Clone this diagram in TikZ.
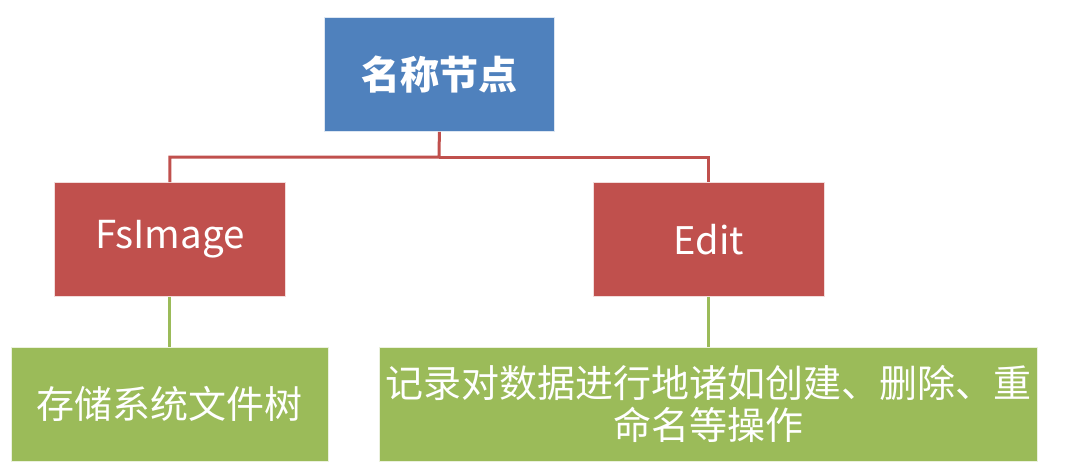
\documentclass[tikz,border=0pt]{standalone}
\usepackage{fontspec}
\setmainfont{Noto Sans CJK SC}
\begin{document}
\begin{tikzpicture}[x=1pt,y=-1pt,
  box/.style={draw=white!80!#1, line width=0.8pt, fill=#1, text=white, inner sep=0pt, anchor=north west},
  redline/.style={draw=boxred, line width=3pt},
  greenline/.style={draw=boxgreen, line width=3pt}]
\definecolor{boxblue}{HTML}{4F81BD}
\definecolor{boxred}{HTML}{C0504D}
\definecolor{boxgreen}{HTML}{9BBB59}
\useasboundingbox (0,0) rectangle (1083,472);
\node[box=boxblue, minimum width=230pt, minimum height=114pt, font=\fontsize{39}{42}\selectfont\bfseries] (top) at (324,17) {名称节点};
\node[box=boxred, minimum width=231pt, minimum height=114pt, font=\fontsize{38.5}{42}\selectfont] (fs) at (54,182) {FsImage};
\node[box=boxred, minimum width=231pt, minimum height=114pt, font=\fontsize{38}{42}\selectfont] (edit) at (593,182) {Edit};
\node[box=boxgreen, minimum width=317pt, minimum height=114pt, font=\fontsize{38}{42}\selectfont] (gl) at (11,347) {存储系统文件树};
\node[box=boxgreen, minimum width=658pt, minimum height=114pt, align=center, font=\fontsize{38}{42}\selectfont] (gr) at (379,347) {记录对数据进行地诸如创建、删除、重\\命名等操作};
\coordinate (mid) at (439,157);
\draw[redline] (top.south) -- (mid) -| (fs.north);
\draw[redline] (mid) -| (edit.north);
\draw[greenline] (fs.south) -- (gl.north -| fs.south);
\draw[greenline] (edit.south) -- (gr.north -| edit.south);
\end{tikzpicture}
\end{document}
